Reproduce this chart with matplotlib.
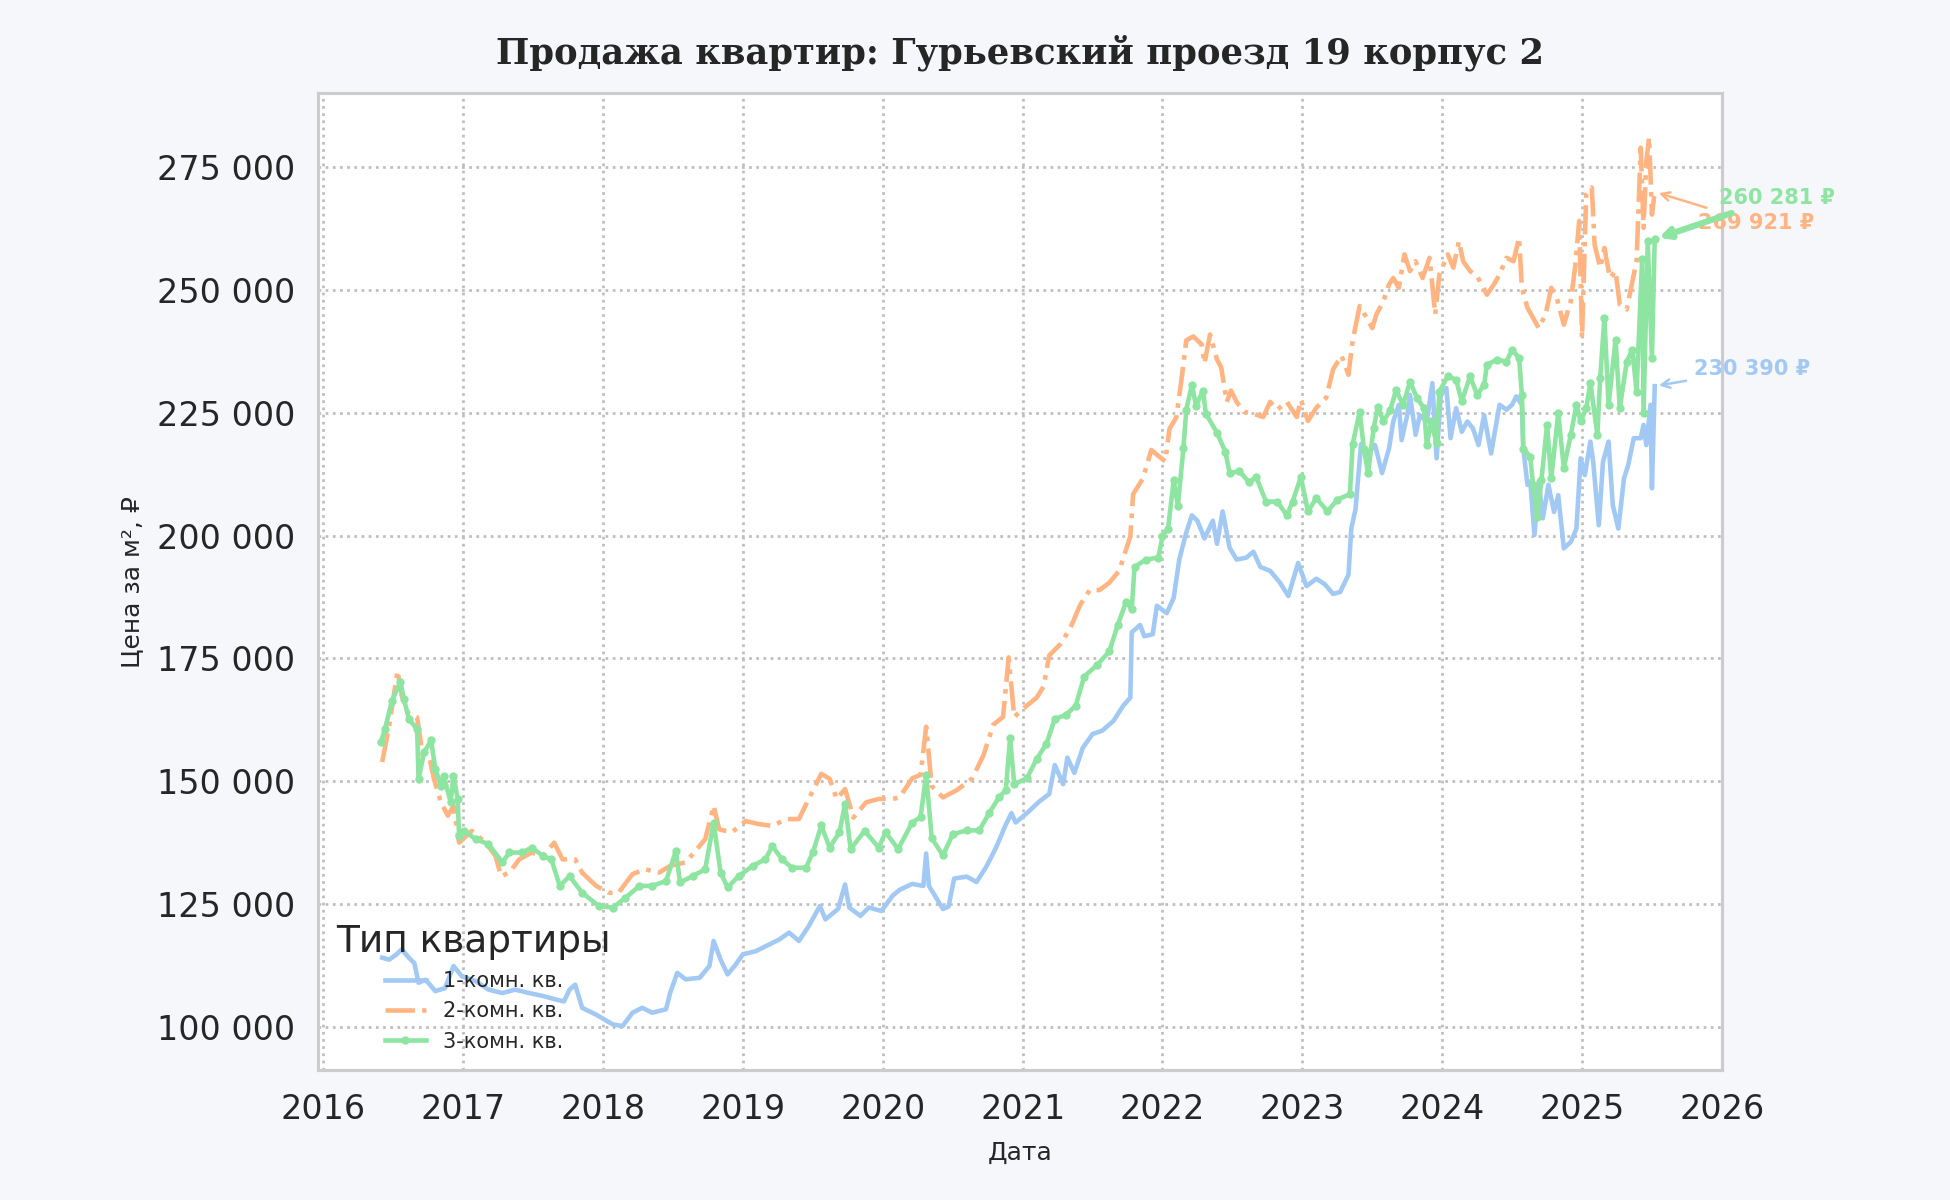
import matplotlib
matplotlib.use("Agg")
import matplotlib.pyplot as plt
from matplotlib.ticker import FuncFormatter

# Цена за м², тыс. ₽; даты в долях года
years_1 = [2016.42, 2016.47, 2016.52, 2016.56, 2016.61, 2016.65, 2016.68, 2016.73, 2016.80, 2016.87,
           2016.93, 2016.99, 2017.09, 2017.18, 2017.28, 2017.37, 2017.47, 2017.57, 2017.66, 2017.72,
           2017.76, 2017.80, 2017.85, 2017.95, 2018.07, 2018.14, 2018.21, 2018.28, 2018.35, 2018.45,
           2018.48, 2018.53, 2018.59, 2018.69, 2018.76, 2018.79, 2018.84, 2018.89, 2018.94, 2019.00,
           2019.09, 2019.19, 2019.26, 2019.33, 2019.40, 2019.47, 2019.55, 2019.59, 2019.68, 2019.73,
           2019.76, 2019.84, 2019.90, 2019.99, 2020.07, 2020.12, 2020.21, 2020.29, 2020.31, 2020.33,
           2020.43, 2020.47, 2020.51, 2020.60, 2020.67, 2020.74, 2020.81, 2020.88, 2020.92, 2020.95,
           2021.03, 2021.12, 2021.19, 2021.23, 2021.29, 2021.32, 2021.37, 2021.43, 2021.50, 2021.57,
           2021.65, 2021.72, 2021.77, 2021.78, 2021.84, 2021.87, 2021.93, 2021.96, 2022.03, 2022.08,
           2022.12, 2022.17, 2022.21, 2022.25, 2022.30, 2022.36, 2022.39, 2022.43, 2022.48, 2022.53,
           2022.60, 2022.65, 2022.70, 2022.77, 2022.84, 2022.90, 2022.97, 2023.03, 2023.10, 2023.16,
           2023.22, 2023.27, 2023.33, 2023.35, 2023.38, 2023.42, 2023.46, 2023.52, 2023.57, 2023.62,
           2023.65, 2023.69, 2023.71, 2023.75, 2023.77, 2023.81, 2023.84, 2023.89, 2023.93, 2023.96,
           2023.99, 2024.03, 2024.06, 2024.10, 2024.14, 2024.18, 2024.22, 2024.26, 2024.30, 2024.35,
           2024.41, 2024.46, 2024.50, 2024.53, 2024.57, 2024.58, 2024.61, 2024.63, 2024.66, 2024.69,
           2024.72, 2024.76, 2024.80, 2024.83, 2024.87, 2024.92, 2024.96, 2024.99, 2025.02, 2025.06,
           2025.08, 2025.12, 2025.15, 2025.19, 2025.22, 2025.26, 2025.30, 2025.33, 2025.37, 2025.42,
           2025.44, 2025.46, 2025.49, 2025.50, 2025.52]
price_1 = [114.1, 113.7, 114.7, 115.8, 114.1, 113.0, 109.0, 109.6, 107.3, 107.9,
           112.4, 110.3, 109.3, 107.6, 106.9, 107.6, 106.9, 106.3, 105.6, 105.2,
           107.6, 108.6, 103.9, 102.5, 100.5, 100.2, 102.9, 103.9, 102.9, 103.6,
           107.0, 111.0, 109.7, 110.0, 112.4, 117.5, 113.7, 110.7, 112.4, 114.8,
           115.4, 116.8, 117.8, 119.2, 117.5, 120.5, 124.6, 121.9, 124.0, 129.0,
           124.3, 122.6, 124.3, 123.6, 126.7, 127.9, 129.1, 128.7, 135.3, 128.7,
           124.0, 124.5, 130.2, 130.6, 129.5, 132.6, 136.5, 141.2, 143.5, 141.6,
           143.5, 145.9, 147.4, 153.3, 149.4, 154.8, 151.7, 156.8, 159.6, 160.3,
           162.3, 165.4, 167.0, 180.3, 181.8, 179.5, 179.9, 185.7, 184.2, 187.3,
           195.1, 200.6, 204.1, 203.0, 199.4, 203.0, 198.3, 204.9, 197.5, 195.1,
           195.5, 196.7, 193.6, 192.8, 190.4, 187.7, 194.4, 189.7, 191.2, 190.1,
           188.1, 188.5, 192.0, 201.4, 205.3, 218.6, 216.5, 218.4, 212.7, 217.7,
           223.2, 226.6, 219.4, 224.5, 228.6, 220.5, 224.5, 223.2, 231.0, 215.7,
           228.6, 230.0, 219.8, 225.9, 221.1, 223.2, 221.8, 218.4, 224.5, 216.7,
           226.6, 225.6, 226.6, 228.3, 226.6, 217.7, 210.3, 211.0, 200.1, 211.0,
           203.5, 210.3, 204.8, 208.2, 197.4, 198.7, 201.4, 215.7, 212.3, 219.1,
           215.0, 202.1, 215.0, 219.1, 206.2, 201.4, 211.6, 214.3, 219.8, 219.8,
           222.5, 218.4, 226.6, 209.6, 230.39]

years_2 = [2016.42, 2016.47, 2016.53, 2016.56, 2016.61, 2016.67, 2016.71, 2016.76, 2016.79, 2016.84,
           2016.89, 2016.93, 2016.97, 2017.06, 2017.16, 2017.23, 2017.27, 2017.33, 2017.40, 2017.49,
           2017.57, 2017.65, 2017.71, 2017.80, 2017.85, 2017.95, 2018.04, 2018.11, 2018.21, 2018.30,
           2018.40, 2018.48, 2018.59, 2018.66, 2018.73, 2018.79, 2018.83, 2018.92, 2019.02, 2019.11,
           2019.21, 2019.31, 2019.40, 2019.47, 2019.56, 2019.62, 2019.67, 2019.73, 2019.79, 2019.88,
           2019.97, 2020.07, 2020.12, 2020.21, 2020.27, 2020.31, 2020.35, 2020.43, 2020.53, 2020.64,
           2020.72, 2020.79, 2020.86, 2020.90, 2020.94, 2021.03, 2021.10, 2021.15, 2021.19, 2021.27,
           2021.34, 2021.41, 2021.48, 2021.55, 2021.62, 2021.69, 2021.77, 2021.79, 2021.86, 2021.92,
           2021.97, 2022.02, 2022.05, 2022.10, 2022.14, 2022.17, 2022.22, 2022.28, 2022.30, 2022.34,
           2022.39, 2022.42, 2022.46, 2022.49, 2022.53, 2022.58, 2022.65, 2022.72, 2022.77, 2022.82,
           2022.89, 2022.96, 2022.99, 2023.04, 2023.10, 2023.17, 2023.22, 2023.28, 2023.33, 2023.36,
           2023.41, 2023.46, 2023.50, 2023.53, 2023.58, 2023.62, 2023.65, 2023.69, 2023.73, 2023.77,
           2023.81, 2023.86, 2023.91, 2023.95, 2023.98, 2024.04, 2024.08, 2024.12, 2024.15, 2024.20,
           2024.25, 2024.32, 2024.37, 2024.41, 2024.46, 2024.51, 2024.55, 2024.57, 2024.61, 2024.65,
           2024.69, 2024.74, 2024.78, 2024.82, 2024.87, 2024.92, 2024.95, 2024.98, 2025.00, 2025.03,
           2025.07, 2025.09, 2025.13, 2025.16, 2025.20, 2025.24, 2025.27, 2025.32, 2025.36, 2025.39,
           2025.42, 2025.44, 2025.46, 2025.48, 2025.50, 2025.52]
price_2 = [153.9, 161.3, 172.5, 167.4, 163.7, 163.0, 155.2, 154.5, 150.5, 145.7,
           143.0, 145.0, 137.5, 139.9, 137.5, 134.8, 130.7, 131.4, 134.1, 135.5,
           134.8, 137.5, 134.1, 134.1, 131.4, 128.7, 127.3, 127.3, 131.1, 132.1,
           131.4, 132.8, 133.5, 135.8, 138.2, 145.0, 140.2, 139.6, 141.9, 141.3,
           140.9, 142.3, 142.3, 146.4, 151.5, 150.5, 146.4, 148.4, 142.6, 145.7,
           146.4, 146.4, 146.7, 150.6, 151.3, 161.1, 149.0, 146.7, 148.2, 150.6,
           155.3, 161.5, 163.1, 175.2, 163.1, 165.4, 167.0, 169.3, 175.6, 177.9,
           181.1, 185.8, 188.9, 188.9, 190.4, 192.8, 199.8, 208.4, 211.6, 217.4,
           216.2, 215.1, 221.7, 224.1, 232.7, 239.7, 240.5, 238.9, 235.0, 240.9,
           235.8, 234.2, 227.2, 229.5, 227.2, 225.2, 224.8, 224.1, 227.2, 225.6,
           227.2, 224.1, 227.6, 223.3, 226.0, 228.0, 233.8, 236.6, 232.7, 239.7,
           246.7, 244.3, 242.2, 245.0, 247.7, 251.1, 252.4, 250.4, 257.2, 253.8,
           255.8, 252.4, 256.5, 245.0, 253.1, 257.2, 254.5, 259.9, 255.8, 253.8,
           252.8, 249.0, 251.1, 253.1, 256.5, 255.8, 260.6, 250.4, 246.3, 244.3,
           242.2, 245.0, 250.4, 248.3, 242.9, 247.7, 254.5, 264.0, 240.2, 269.4,
           270.8, 259.2, 254.5, 258.5, 252.4, 253.8, 247.0, 246.0, 251.7, 255.8,
           278.9, 262.6, 276.2, 281.0, 265.3, 269.921]

years_3 = [2016.41, 2016.44, 2016.49, 2016.55, 2016.575, 2016.61, 2016.67, 2016.68, 2016.72, 2016.77,
           2016.80, 2016.84, 2016.86, 2016.91, 2016.93, 2016.96, 2016.97, 2017.005, 2017.09, 2017.18,
           2017.28, 2017.33, 2017.42, 2017.49, 2017.57, 2017.63, 2017.69, 2017.76, 2017.85, 2017.97,
           2018.07, 2018.16, 2018.26, 2018.35, 2018.45, 2018.52, 2018.55, 2018.64, 2018.73, 2018.79,
           2018.84, 2018.89, 2018.97, 2019.07, 2019.16, 2019.21, 2019.28, 2019.35, 2019.45, 2019.50,
           2019.56, 2019.62, 2019.69, 2019.73, 2019.77, 2019.87, 2019.97, 2020.02, 2020.11, 2020.21,
           2020.27, 2020.31, 2020.35, 2020.43, 2020.50, 2020.60, 2020.69, 2020.76, 2020.83, 2020.88,
           2020.91, 2020.94, 2021.03, 2021.10, 2021.17, 2021.23, 2021.31, 2021.38, 2021.44, 2021.53,
           2021.62, 2021.68, 2021.74, 2021.78, 2021.80, 2021.88, 2021.97, 2022.00, 2022.04, 2022.08,
           2022.11, 2022.15, 2022.17, 2022.21, 2022.24, 2022.29, 2022.31, 2022.39, 2022.45, 2022.48,
           2022.55, 2022.62, 2022.67, 2022.74, 2022.82, 2022.89, 2022.93, 2022.99, 2023.04, 2023.10,
           2023.18, 2023.25, 2023.34, 2023.36, 2023.41, 2023.44, 2023.47, 2023.51, 2023.54, 2023.58,
           2023.63, 2023.67, 2023.72, 2023.77, 2023.82, 2023.87, 2023.89, 2023.92, 2023.96, 2023.98,
           2024.04, 2024.10, 2024.14, 2024.20, 2024.25, 2024.30, 2024.32, 2024.39, 2024.46, 2024.50,
           2024.55, 2024.57, 2024.58, 2024.63, 2024.65, 2024.68, 2024.71, 2024.75, 2024.78, 2024.83,
           2024.87, 2024.92, 2024.96, 2024.99, 2025.03, 2025.06, 2025.11, 2025.13, 2025.16, 2025.19,
           2025.24, 2025.27, 2025.32, 2025.36, 2025.39, 2025.43, 2025.44, 2025.47, 2025.50, 2025.52]
price_3 = [157.9, 160.6, 166.4, 170.2, 166.8, 162.7, 160.6, 150.5, 155.9, 158.3,
           152.5, 149.1, 151.1, 145.7, 151.1, 146.4, 138.9, 139.9, 138.2, 137.2,
           133.5, 135.5, 135.5, 136.5, 134.8, 134.1, 128.7, 130.7, 127.3, 124.6,
           124.3, 126.3, 128.7, 128.7, 129.7, 135.8, 129.4, 130.7, 132.1, 141.6,
           131.4, 128.4, 130.7, 132.8, 134.1, 136.8, 134.1, 132.4, 132.4, 135.5,
           141.0, 136.5, 139.6, 145.4, 136.2, 139.9, 136.5, 139.6, 136.2, 141.6,
           142.7, 151.3, 138.4, 134.9, 139.2, 140.0, 140.0, 143.5, 146.7, 148.2,
           158.8, 149.4, 150.6, 154.5, 157.6, 162.7, 163.5, 165.4, 171.3, 173.6,
           176.4, 181.8, 186.5, 185.0, 193.6, 195.1, 195.5, 199.8, 201.4, 211.2,
           206.1, 217.8, 225.6, 230.7, 226.4, 229.5, 224.8, 220.9, 217.0, 212.7,
           213.1, 210.8, 211.9, 206.9, 206.9, 204.1, 206.9, 211.9, 204.9, 207.6,
           204.9, 207.3, 208.4, 218.6, 225.2, 217.7, 212.7, 221.8, 226.2, 223.2,
           225.6, 229.6, 226.6, 231.3, 228.0, 225.9, 218.4, 223.2, 218.8, 229.3,
           232.4, 231.7, 227.3, 232.4, 228.6, 230.7, 234.7, 235.8, 235.4, 237.8,
           236.1, 228.6, 217.7, 216.0, 210.3, 203.8, 211.3, 222.5, 211.6, 224.9,
           213.7, 220.5, 226.6, 223.2, 225.9, 231.0, 220.5, 232.0, 244.3, 226.6,
           239.8, 225.9, 235.4, 237.8, 229.3, 256.2, 224.9, 259.9, 236.1, 260.281]

labels = ["1-комн. кв.", "2-комн. кв.", "3-комн. кв."]
colors = ["#a1c9f4", "#ffb482", "#8de5a1"]
year_ticks = list(range(2016, 2027))
price_ticks = [100000, 125000, 150000, 175000, 200000, 225000, 250000, 275000]

fig = plt.figure(figsize=(13, 8), dpi=150, facecolor="#f6f7fb")
ax = fig.add_axes([0.163, 0.108, 0.72, 0.8145])
ax.set_facecolor("white")

ax.plot(years_1, [v * 1000 for v in price_1], color=colors[0], lw=2.2, label=labels[0])
ax.plot(years_2, [v * 1000 for v in price_2], color=colors[1], lw=2.2, ls="-.", label=labels[1])
ax.plot(years_3, [v * 1000 for v in price_3], color=colors[2], lw=2.2, marker="o", ms=3,
        label=labels[2])

ax.set_xlim(2015.96, 2026.0)
ax.set_xticks(year_ticks)
ax.set_yticks(price_ticks)
ax.yaxis.set_major_formatter(FuncFormatter(lambda v, p: f"{v:,.0f}".replace(",", " ")))
ax.tick_params(axis="both", length=0, pad=11, labelsize=16, labelcolor="#262626")
ax.grid(True, ls=":", color="#bdbdbd", lw=1.3)
for s in ax.spines.values():
    s.set_color("#cccccc")
    s.set_linewidth(1.5)

ax.set_title("Продажа квартир: Гурьевский проезд 19 корпус 2", family="DejaVu Serif",
             fontweight="bold", fontsize=17, color="#262626", pad=14)
ax.set_xlabel("Дата", fontsize=12, color="#262626", labelpad=7)
ax.set_ylabel("Цена за м², ₽", fontsize=12, color="#262626", labelpad=6)

# подписи последних значений
offsets = [(19, 8), (21, -15), (31, 20)]
arrow_lw = [1.2, 1.2, 3]
for xs, vs, c, off, alw in zip([years_1, years_2, years_3], [price_1, price_2, price_3],
                               colors, offsets, arrow_lw):
    last = vs[-1] * 1000
    ax.annotate(f"{last:,.0f} ₽".replace(",", " "), xy=(xs[-1], last), xytext=off,
                textcoords="offset points", ha="left", va="center", fontsize=10,
                fontweight="bold", color=c, annotation_clip=False,
                arrowprops=dict(arrowstyle="->", color=c, lw=alw))

leg = ax.legend(title="Тип квартиры", loc="lower left", frameon=False, fontsize=10,
                title_fontsize=18)
for t in leg.get_texts():
    t.set_color("#262626")
leg.get_title().set_color("#262626")

fig.savefig("out.png", dpi=150, facecolor=fig.get_facecolor())
